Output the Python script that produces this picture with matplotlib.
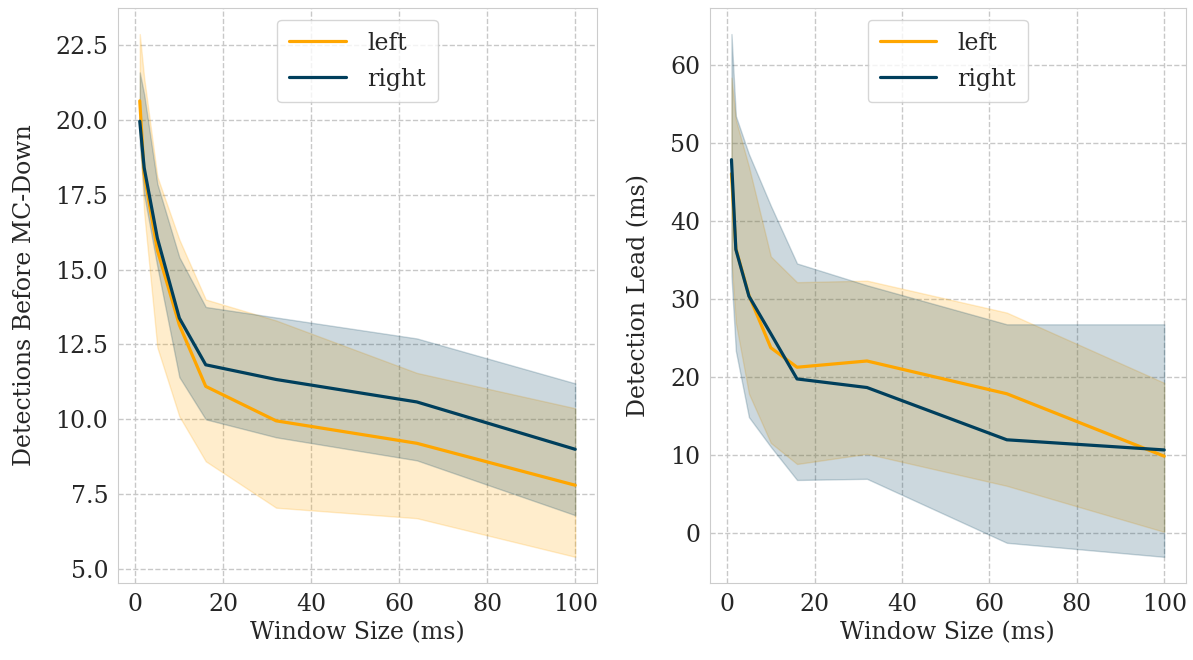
import matplotlib
matplotlib.use("Agg")
import matplotlib.pyplot as plt
import seaborn as sns

sns.set_style("whitegrid", {"grid.linestyle": "--"})
plt.rcParams['font.family'] = ['DejaVu Serif']

window = [1, 2, 5, 10, 16, 32, 64, 100]

# Left panel: Detections Before MC-Down
det_left_mean = [20.63, 18.2, 15.65, 13.15, 11.1, 9.95, 9.2, 7.8]
det_left_lo = [19.5, 16.9, 12.4, 10.1, 8.6, 7.05, 6.7, 5.41]
det_left_hi = [22.86, 21.4, 18.1, 16.0, 14.0, 13.3, 11.55, 10.37]
det_right_mean = [19.95, 18.4, 16.05, 13.38, 11.82, 11.33, 10.58, 9.0]
det_right_lo = [19.2, 17.5, 15.1, 11.41, 10.0, 9.4, 8.63, 6.8]
det_right_hi = [21.58, 20.85, 17.86, 15.41, 13.75, 13.4, 12.7, 11.2]

# Right panel: Detection Lead (ms)
lead_left_mean = [46.1, 36.5, 30.5, 23.8, 21.3, 22.1, 17.9, 9.9]
lead_left_lo = [35.0, 27.0, 17.9, 11.6, 8.9, 10.2, 6.1, 0.2]
lead_left_hi = [58.4, 53.0, 47.0, 35.5, 32.2, 32.4, 28.3, 19.3]
lead_right_mean = [47.9, 36.4, 30.4, 25.6, 19.8, 18.7, 12.0, 10.7]
lead_right_lo = [33.0, 23.4, 14.9, 11.1, 6.85, 7.0, -1.2, -3.0]
lead_right_hi = [64.0, 53.5, 48.6, 42.0, 34.6, 31.8, 26.8, 26.8]

series_names = ["left", "right"]
colors = ["#ffa600", "#003f5c"]

fig = plt.figure(figsize=(11.93, 6.6), dpi=100)
ax1 = fig.add_axes([0.0989, 0.1167, 0.4015, 0.8713])
ax2 = fig.add_axes([0.595, 0.1167, 0.399, 0.8713])

panels = [
    (ax1, [(det_left_mean, det_left_lo, det_left_hi), (det_right_mean, det_right_lo, det_right_hi)],
     "Detections Before MC-Down"),
    (ax2, [(lead_left_mean, lead_left_lo, lead_left_hi), (lead_right_mean, lead_right_lo, lead_right_hi)],
     "Detection Lead (ms)"),
]

fs = 17
for ax, data, ylabel in panels:
    for (m, lo, hi), name, c in zip(data, series_names, colors):
        ax.fill_between(window, lo, hi, color=c, alpha=0.2, linewidth=1)
    for (m, lo, hi), name, c in zip(data, series_names, colors):
        ax.plot(window, m, color=c, linewidth=2.3, label=name)
    ax.set_xlabel("Window Size (ms)", fontsize=fs, labelpad=4)
    ax.set_ylabel(ylabel, fontsize=fs, labelpad=14)
    ax.tick_params(labelsize=fs)
    ax.set_xticks([0, 20, 40, 60, 80, 100])
    ax.grid(True, linestyle="--", color="#c8c8c8", linewidth=1.0)
    for s in ax.spines.values():
        s.set_color("#cccccc")
    ax.legend(loc="upper center", fontsize=fs, frameon=True, borderpad=0.5,
              handlelength=2.4, labelspacing=0.55, handletextpad=0.9)

ax1.set_yticks([5.0, 7.5, 10.0, 12.5, 15.0, 17.5, 20.0, 22.5])
ax1.set_yticklabels(["5.0", "7.5", "10.0", "12.5", "15.0", "17.5", "20.0", "22.5"])
ax2.set_yticks([0, 10, 20, 30, 40, 50, 60])

fig.savefig("out.png", dpi=100)
